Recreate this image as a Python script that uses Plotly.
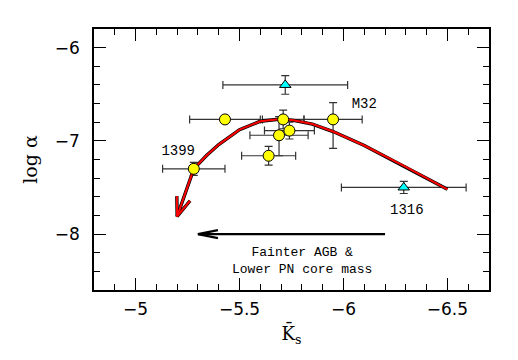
import plotly.graph_objects as go
import numpy as np

# ---- data ----
circ_x = [-5.43, -5.71, -5.95, -5.74, -5.69, -5.64, -5.28]
circ_y = [-6.77, -6.77, -6.77, -6.89, -6.94, -7.16, -7.30]
circ_xerr = [0.17, 0.10, 0.14, 0.12, 0.14, 0.13, 0.15]
circ_yerr_up = [0.03, 0.10, 0.18, 0.09, 0.20, 0.10, 0.07]
circ_yerr_dn = [0.03, 0.10, 0.31, 0.09, 0.22, 0.10, 0.07]

tri_x = [-5.72, -6.29]
tri_y = [-6.40, -7.50]
tri_xerr = [0.30, 0.30]
tri_yerr = [0.10, 0.065]

curve_x = [-6.50, -6.30, -6.10, -5.95, -5.85, -5.76, -5.70, -5.60, -5.50, -5.40, -5.34, -5.28, -5.20]
curve_y = [-7.52, -7.28, -7.05, -6.90, -6.82, -6.78, -6.765, -6.79, -6.88, -7.04, -7.16, -7.30, -7.81]

dir_arrow_x = [-6.20, -5.30]
dir_arrow_y = [-8.00, -8.00]

labels_text = ["M32", "1399", "1316"]
labels_x = [-6.10, -5.205, -6.305]
labels_y = [-6.61, -7.115, -7.75]

note_text = "Fainter AGB &<br>Lower PN core mass"
note_x = -5.80
note_y = -8.29

x_range = [-4.8, -6.7]
y_range = [-8.6, -5.8]
x_ticks = [-5, -5.5, -6, -6.5]
y_ticks = [-6, -7, -8]

# ---- layout geometry (page has an 8px body margin) ----
W, H = 510, 352
ml, mr, mt, mb = 86, 29, 21, 70
pw, ph = W - ml - mr, H - mt - mb


def to_px(x, y):
    px = (x - x_range[0]) / (x_range[1] - x_range[0]) * pw
    py = (y_range[1] - y) / (y_range[1] - y_range[0]) * ph
    return np.array([px, py])


def to_data(p):
    x = x_range[0] + p[0] / pw * (x_range[1] - x_range[0])
    y = y_range[1] - p[1] / ph * (y_range[1] - y_range[0])
    return x, y


def head(tip, back, length, half_w):
    t = to_px(*tip)
    b = to_px(*back)
    u = (b - t) / np.linalg.norm(b - t)
    n = np.array([-u[1], u[0]])
    a1 = to_data(t + u * length + n * half_w)
    a2 = to_data(t + u * length - n * half_w)
    return [a1[0], tip[0], a2[0]], [a1[1], tip[1], a2[1]]


fig = go.Figure()

err_style = dict(color="#333333", thickness=1.2, width=4)

# error bars (drawn first)
fig.add_trace(go.Scatter(
    x=circ_x, y=circ_y, mode="markers",
    marker=dict(size=11, color="rgba(0,0,0,0)"),
    error_x=dict(type="data", array=circ_xerr, **err_style),
    error_y=dict(type="data", array=circ_yerr_up, arrayminus=circ_yerr_dn, symmetric=False, **err_style),
    showlegend=False, hoverinfo="skip"))
fig.add_trace(go.Scatter(
    x=tri_x, y=tri_y, mode="markers",
    marker=dict(size=10, color="rgba(0,0,0,0)"),
    error_x=dict(type="data", array=tri_xerr, **err_style),
    error_y=dict(type="data", array=tri_yerr, **err_style),
    showlegend=False, hoverinfo="skip"))

# model curve with black outline
hx, hy = head((curve_x[-1], curve_y[-1]), (curve_x[-2], curve_y[-2]), 19, 7)
for col, w in (("black", 3.4), ("#ff0000", 2.0)):
    fig.add_trace(go.Scatter(x=curve_x, y=curve_y, mode="lines",
                             line=dict(color=col, width=w), showlegend=False, hoverinfo="skip"))
    fig.add_trace(go.Scatter(x=hx, y=hy, mode="lines",
                             line=dict(color=col, width=w), showlegend=False, hoverinfo="skip"))

# markers
fig.add_trace(go.Scatter(x=circ_x, y=circ_y, mode="markers",
                         marker=dict(symbol="circle", size=11, color="#ffff00",
                                     line=dict(color="black", width=1)),
                         showlegend=False))
fig.add_trace(go.Scatter(x=tri_x, y=tri_y, mode="markers",
                         marker=dict(symbol="triangle-up", size=10, color="#00ffff",
                                     line=dict(color="black", width=1)),
                         showlegend=False))

# direction arrow
bx, by = head((dir_arrow_x[1], dir_arrow_y[1]), (dir_arrow_x[0], dir_arrow_y[0]), 20, 4)
fig.add_trace(go.Scatter(x=dir_arrow_x, y=dir_arrow_y, mode="lines",
                         line=dict(color="black", width=2.2), showlegend=False, hoverinfo="skip"))
fig.add_trace(go.Scatter(x=bx, y=by, mode="lines",
                         line=dict(color="black", width=2.2), showlegend=False, hoverinfo="skip"))

# text labels
fig.add_trace(go.Scatter(x=labels_x, y=labels_y, mode="text", text=labels_text,
                         textfont=dict(family="Liberation Mono", size=14, color="black"),
                         showlegend=False, hoverinfo="skip"))
fig.add_annotation(x=note_x, y=note_y, text=note_text, showarrow=False,
                   font=dict(family="Liberation Mono", size=13, color="black"))

axis_common = dict(showgrid=False, zeroline=False, showline=True, linecolor="black",
                   linewidth=1.5, mirror="ticks", ticks="inside", ticklen=12,
                   tickwidth=1.2, tickcolor="black",
                   tickfont=dict(family="DejaVu Sans", size=17, color="black"))

fig.update_xaxes(range=x_range, tickvals=x_ticks, ticktext=["\u22125", "\u22125.5", "\u22126", "\u22126.5"],
                 minor=dict(dtick=0.1, ticks="inside", ticklen=6, tickcolor="black", tickwidth=1),
                 title=dict(text="K\u0304<sub>s</sub>", font=dict(family="DejaVu Serif", size=18, color="black"),
                            standoff=9),
                 ticklabelstandoff=3, **axis_common)
fig.update_yaxes(range=y_range, tickvals=y_ticks, ticktext=["\u22126", "\u22127", "\u22128"],
                 minor=dict(dtick=0.2, ticks="inside", ticklen=6, tickcolor="black", tickwidth=1),
                 title=dict(text="log \u03b1", font=dict(family="DejaVu Serif", size=19, color="black"),
                            standoff=12),
                 ticklabelstandoff=9, **axis_common)

fig.update_layout(width=W, height=H, margin=dict(l=ml, r=mr, t=mt, b=mb),
                  plot_bgcolor="white", paper_bgcolor="white")

fig.write_html("out.html")
